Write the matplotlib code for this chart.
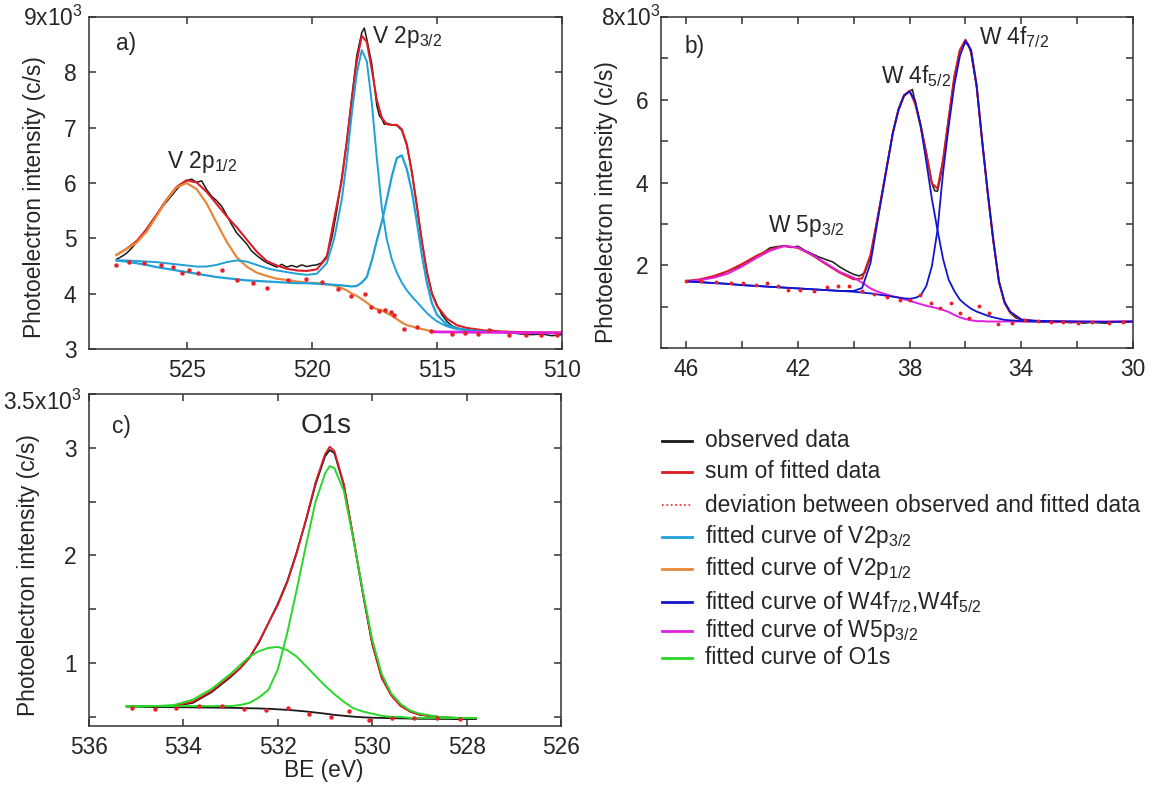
import matplotlib
matplotlib.use("Agg")
import matplotlib.pyplot as plt
from matplotlib.lines import Line2D

plt.rcParams["font.family"] = ["Liberation Sans", "DejaVu Sans"]
plt.rcParams["mathtext.fontset"] = "custom"
plt.rcParams["mathtext.rm"] = "Liberation Sans"
plt.rcParams["mathtext.it"] = "Liberation Sans:italic"
plt.rcParams["mathtext.bf"] = "Liberation Sans:bold"

# ---------------- a) V 2p region ----------------
be_a_obs = [527.8, 527.6, 527.4, 527.2, 527.0, 526.8, 526.6, 526.4, 526.2, 526.0,
            525.8, 525.6, 525.4, 525.2, 525.0, 524.8, 524.6, 524.4, 524.2, 524.0,
            523.8, 523.6, 523.4, 523.2, 523.0, 522.8, 522.6, 522.4, 522.2, 522.0,
            521.8, 521.6, 521.4, 521.2, 521.0, 520.8, 520.6, 520.4, 520.2, 520.0,
            519.8, 519.6, 519.4, 519.2, 519.0, 518.8, 518.6, 518.4, 518.2, 518.0,
            517.9, 517.8, 517.6, 517.4, 517.3, 517.2, 517.1, 517.0, 516.8, 516.6,
            516.4, 516.2, 516.0, 515.8, 515.6, 515.4, 515.2, 515.0, 514.8, 514.6,
            514.4, 514.2, 514.0, 513.6, 513.2, 512.8, 512.4, 512.0, 511.6, 511.2,
            510.8, 510.4, 510.0]
obs_a = [4.62, 4.67, 4.73, 4.82, 4.93, 5.05, 5.17, 5.30, 5.42, 5.55,
         5.66, 5.77, 5.88, 5.98, 6.04, 6.07, 6.01, 6.04, 5.88, 5.76,
         5.68, 5.58, 5.42, 5.25, 5.10, 5.00, 4.90, 4.77, 4.69, 4.62,
         4.56, 4.52, 4.48, 4.53, 4.48, 4.51, 4.48, 4.52, 4.49, 4.51,
         4.52, 4.56, 4.68, 5.00, 5.50, 6.10, 6.75, 7.55, 8.30, 8.72,
         8.80, 8.60, 8.15, 7.40, 7.22, 7.16, 7.06, 7.08, 7.05, 7.04,
         6.95, 6.68, 6.20, 5.60, 4.95, 4.40, 4.02, 3.80, 3.62, 3.50,
         3.42, 3.38, 3.36, 3.33, 3.32, 3.34, 3.30, 3.29, 3.27, 3.26,
         3.27, 3.24, 3.26]

be_a = [527.8, 527.4, 527.0, 526.6, 526.2, 525.8, 525.4, 525.0, 524.6, 524.2,
        523.8, 523.4, 523.0, 522.6, 522.2, 521.8, 521.4, 521.0, 520.6, 520.2,
        519.8, 519.4, 519.1, 518.8, 518.6, 518.4, 518.2, 518.0, 517.8, 517.6,
        517.4, 517.2, 517.0, 516.8, 516.6, 516.4, 516.2, 516.0, 515.8, 515.6,
        515.4, 515.2, 515.0, 514.6, 514.2, 513.8, 513.0]
be_a_sum = be_a + [512.0, 511.0, 510.0]
sum_a = [4.70, 4.81, 4.95, 5.16, 5.43, 5.70, 5.93, 6.05, 6.01, 5.84,
         5.62, 5.40, 5.20, 4.98, 4.76, 4.59, 4.51, 4.45, 4.42, 4.41,
         4.44, 4.65, 5.36, 6.05, 6.75, 7.50, 8.20, 8.66, 8.55, 8.05,
         7.50, 7.18, 7.06, 7.05, 7.05, 6.97, 6.70, 6.20, 5.58, 4.95,
         4.40, 4.00, 3.78, 3.55, 3.43, 3.38, 3.33, 3.31, 3.30, 3.30]
v2p32_main = [4.60, 4.60, 4.59, 4.58, 4.57, 4.55, 4.53, 4.51, 4.49, 4.49,
              4.52, 4.57, 4.60, 4.58, 4.52, 4.46, 4.42, 4.39, 4.36, 4.34,
              4.36, 4.55, 5.00, 5.70, 6.40, 7.25, 7.98, 8.40, 8.20, 7.45,
              6.45, 5.55, 4.98, 4.62, 4.38, 4.20, 4.06, 3.95, 3.85, 3.75,
              3.65, 3.57, 3.50, 3.41, 3.36, 3.34, 3.31]
v2p32_low = [4.60, 4.58, 4.55, 4.52, 4.48, 4.45, 4.42, 4.39, 4.36, 4.33,
             4.30, 4.28, 4.26, 4.24, 4.23, 4.22, 4.21, 4.20, 4.19, 4.19,
             4.18, 4.17, 4.16, 4.15, 4.14, 4.13, 4.14, 4.20, 4.30, 4.60,
             4.96, 5.30, 5.70, 6.12, 6.45, 6.50, 6.25, 5.85, 5.30, 4.70,
             4.20, 3.83, 3.62, 3.44, 3.37, 3.34, 3.31]
v2p12 = [4.70, 4.81, 4.92, 5.12, 5.40, 5.69, 5.92, 6.00, 5.89, 5.63,
         5.28, 4.94, 4.66, 4.49, 4.38, 4.32, 4.27, 4.25, 4.22, 4.20,
         4.19, 4.17, 4.15, 4.10, 4.06, 4.00, 3.96, 3.90, 3.84, 3.76,
         3.72, 3.70, 3.65, 3.60, 3.54, 3.48, 3.43, 3.41, 3.38, 3.36,
         3.34, 3.32, 3.31]
be_a_tail = [515.2, 510.0]
tail_a = [3.31, 3.29]
be_a_dev = [527.84, 527.30, 526.70, 526.01, 525.55, 525.19, 524.90, 524.53, 523.59, 523.00,
            522.36, 521.79, 520.93, 520.24, 519.59, 518.97, 518.44, 517.89, 517.62, 517.30,
            517.07, 516.85, 516.73, 516.33, 515.81, 515.22, 514.41, 513.89, 513.37, 512.93,
            512.11, 511.44, 510.85, 510.19]
dev_a = [4.51, 4.57, 4.55, 4.52, 4.48, 4.37, 4.43, 4.37, 4.42, 4.25,
         4.19, 4.11, 4.25, 4.27, 4.21, 4.08, 3.95, 4.00, 3.76, 3.68,
         3.70, 3.66, 3.62, 3.37, 3.40, 3.32, 3.28, 3.29, 3.28, 3.34,
         3.25, 3.26, 3.25, 3.26]

# ---------------- b) W 4f / W 5p region ----------------
be_b_obs = [46.0, 45.75, 45.5, 45.25, 45.0, 44.75, 44.5, 44.25, 44.0, 43.75,
            43.5, 43.25, 43.0, 42.75, 42.5, 42.25, 42.0, 41.75, 41.5, 41.25,
            41.0, 40.75, 40.5, 40.25, 40.0, 39.8, 39.6, 39.4, 39.2, 39.0,
            38.8, 38.6, 38.4, 38.2, 38.0, 37.9, 37.8, 37.6, 37.4, 37.2,
            37.1, 37.0, 36.9, 36.8, 36.6, 36.4, 36.2, 36.0, 35.9, 35.8,
            35.6, 35.4, 35.2, 35.0, 34.8, 34.6, 34.4, 34.2, 34.0, 33.75,
            33.5, 33.25, 33.0, 32.75, 32.5, 32.25, 32.0, 31.75, 31.5, 31.25,
            31.0, 30.75, 30.5, 30.25, 30.0]
obs_b = [1.60, 1.63, 1.65, 1.69, 1.73, 1.78, 1.86, 1.93, 1.98, 2.08,
         2.22, 2.30, 2.42, 2.45, 2.47, 2.43, 2.46, 2.36, 2.28, 2.20,
         2.14, 2.08, 1.96, 1.86, 1.78, 1.74, 1.82, 2.20, 2.95, 3.70,
         4.45, 5.20, 5.78, 6.12, 6.20, 6.25, 5.95, 5.40, 4.72, 3.98,
         3.80, 3.79, 4.10, 4.55, 5.55, 6.55, 7.20, 7.37, 7.35, 7.12,
         6.30, 5.00, 3.72, 2.55, 1.60, 1.08, 0.85, 0.73, 0.68, 0.65,
         0.66, 0.63, 0.64, 0.62, 0.63, 0.61, 0.62, 0.60, 0.62, 0.61,
         0.60, 0.62, 0.63, 0.62, 0.64]

be_b = [46.0, 45.5, 45.0, 44.5, 44.0, 43.5, 43.0, 42.5, 42.0, 41.5,
        41.0, 40.5, 40.0, 39.7, 39.4, 39.1, 38.8, 38.6, 38.4, 38.2,
        38.0, 37.8, 37.6, 37.4, 37.2, 37.0, 36.8, 36.6, 36.4, 36.2,
        36.0, 35.8, 35.6, 35.4, 35.2, 35.0, 34.8, 34.6, 34.4, 34.0,
        33.5, 33.0, 32.0, 31.0, 30.0]
sum_b = [1.62, 1.66, 1.74, 1.86, 2.03, 2.22, 2.38, 2.47, 2.42, 2.25,
         2.03, 1.82, 1.66, 1.68, 2.25, 3.30, 4.43, 5.20, 5.75, 6.10,
         6.22, 5.90, 5.35, 4.70, 3.98, 3.85, 4.55, 5.55, 6.55, 7.20,
         7.45, 7.20, 6.35, 5.00, 3.75, 2.60, 1.60, 1.10, 0.86, 0.68,
         0.65, 0.64, 0.63, 0.63, 0.64]
w4f52 = [1.61, 1.59, 1.57, 1.55, 1.52, 1.50, 1.48, 1.46, 1.44, 1.42,
         1.40, 1.38, 1.38, 1.45, 2.05, 3.25, 4.42, 5.19, 5.74, 6.09,
         6.20, 5.98, 5.35, 4.50, 3.60, 2.85, 2.15, 1.65, 1.38, 1.17,
         1.05, 0.95, 0.88, 0.83, 0.78, 0.74, 0.71, 0.68, 0.67, 0.65,
         0.64, 0.64]
w4f72 = [1.61, 1.59, 1.57, 1.55, 1.52, 1.50, 1.48, 1.46, 1.44, 1.42,
         1.40, 1.38, 1.36, 1.34, 1.32, 1.29, 1.26, 1.24, 1.22, 1.20,
         1.19, 1.21, 1.27, 1.50, 1.98, 2.85, 4.25, 5.35, 6.35, 7.05,
         7.42, 7.20, 6.35, 5.00, 3.75, 2.60, 1.62, 1.12, 0.88, 0.69,
         0.66, 0.65, 0.64, 0.63, 0.64]
w5p32 = [1.61, 1.64, 1.70, 1.80, 1.97, 2.17, 2.35, 2.46, 2.43, 2.26,
         2.05, 1.84, 1.70, 1.58, 1.44, 1.35, 1.29, 1.25, 1.22, 1.18,
         1.14, 1.10, 1.06, 1.02, 0.99, 0.96, 0.92, 0.87, 0.80, 0.74,
         0.70, 0.67, 0.65, 0.65, 0.64, 0.64, 0.64, 0.64, 0.64, 0.64,
         0.64, 0.64, 0.64, 0.64, 0.64]
be_b_dev = [46.0, 45.45, 44.93, 44.41, 43.96, 43.5, 43.11, 42.72, 42.35, 41.94,
            41.42, 40.96, 40.57, 40.18, 39.72, 39.27, 38.81, 38.36, 37.97, 37.64,
            37.25, 36.92, 36.53, 36.18, 35.88, 35.52, 35.14, 34.84, 34.35, 33.86,
            33.41, 32.95, 32.5, 31.98, 31.46, 30.87, 30.35]
dev_b = [1.61, 1.63, 1.59, 1.57, 1.56, 1.53, 1.56, 1.51, 1.41, 1.39,
         1.37, 1.48, 1.51, 1.49, 1.37, 1.31, 1.24, 1.15, 1.17, 1.27,
         1.08, 0.97, 1.08, 0.84, 0.73, 1.01, 0.85, 0.57, 0.61, 0.67,
         0.65, 0.64, 0.63, 0.61, 0.63, 0.60, 0.63]

# ---------------- c) O 1s region ----------------
be_c = [535.2, 535.0, 534.6, 534.2, 533.8, 533.4, 533.0, 532.8, 532.6, 532.4,
        532.2, 532.0, 531.8, 531.6, 531.4, 531.2, 531.0, 530.9, 530.8, 530.6,
        530.4, 530.2, 530.0, 529.8, 529.6, 529.4, 529.2, 529.0, 528.6, 528.2,
        527.8]
obs_c = [0.60, 0.60, 0.59, 0.60, 0.63, 0.73, 0.87, 0.95, 1.05, 1.19,
         1.37, 1.55, 1.76, 2.03, 2.33, 2.66, 2.92, 2.98, 2.95, 2.65,
         2.16, 1.65, 1.18, 0.87, 0.71, 0.61, 0.55, 0.52, 0.50, 0.48,
         0.49]
sum_c = [0.60, 0.60, 0.60, 0.60, 0.64, 0.74, 0.88, 0.95, 1.05, 1.20,
         1.37, 1.54, 1.75, 2.02, 2.34, 2.68, 2.94, 3.01, 2.97, 2.66,
         2.17, 1.66, 1.18, 0.86, 0.70, 0.60, 0.55, 0.52, 0.50, 0.49,
         0.49]
o1s_main = [0.60, 0.60, 0.60, 0.60, 0.60, 0.60, 0.60, 0.61, 0.63, 0.68,
            0.75, 0.94, 1.28, 1.68, 2.10, 2.50, 2.76, 2.83, 2.81, 2.60,
            2.15, 1.67, 1.22, 0.90, 0.72, 0.62, 0.56, 0.53, 0.50, 0.49,
            0.49]
o1s_high = [0.596, 0.596, 0.60, 0.61, 0.66, 0.76, 0.90, 0.98, 1.06, 1.11,
            1.14, 1.15, 1.12, 1.06, 0.97, 0.88, 0.79, 0.75, 0.71, 0.64,
            0.58, 0.55, 0.53, 0.51, 0.50, 0.50, 0.49, 0.49, 0.49, 0.49,
            0.49]
bg_c = [0.595, 0.595, 0.593, 0.590, 0.588, 0.586, 0.584, 0.582, 0.580, 0.578,
        0.575, 0.570, 0.565, 0.558, 0.550, 0.540, 0.530, 0.524, 0.518, 0.510,
        0.502, 0.496, 0.492, 0.490, 0.488, 0.486, 0.484, 0.482, 0.481, 0.480,
        0.480]
be_c_dev = [535.08, 534.61, 534.15, 533.66, 533.19, 532.71, 532.25, 531.79, 531.34, 530.88,
            530.49, 530.06, 529.59, 529.11, 528.62, 528.13]
dev_c = [0.58, 0.57, 0.58, 0.60, 0.60, 0.57, 0.56, 0.58, 0.53, 0.50,
         0.55, 0.47, 0.49, 0.49, 0.49, 0.48]

# ---------------- styling ----------------
C_OBS = "#1a1a1a"
C_SUM = "#dc1c24"
C_DEV = "#e8202a"
C_V32 = "#1fa0d8"
C_V12 = "#e8873a"
C_W4F = "#1414cc"
C_W5P = "#e020e0"
C_O1S = "#2ad62a"
TXT = "#262626"
FS = 16.4

W, H = 1153, 792
fig = plt.figure(figsize=(W / 100, H / 100), dpi=100)


def px_axes(left, top, right, bottom):
    return fig.add_axes([left / W, 1 - bottom / H, (right - left) / W, (bottom - top) / H])


def style(ax):
    for s in ax.spines.values():
        s.set_linewidth(1.1)
        s.set_color("#333333")
    ax.tick_params(which="both", direction="in", top=True, right=True,
                   length=5, width=1.1, color="#333333",
                   labelsize=FS, labelcolor=TXT)
    ax.tick_params(axis="x", pad=7)
    ax.tick_params(axis="y", pad=9)


ax_a = px_axes(89, 17, 562, 349)
ax_b = px_axes(661, 17, 1133, 348)
ax_c = px_axes(89, 394, 561, 726)

# panel a
ax = ax_a
ax.plot(be_a_obs, obs_a, color=C_OBS, lw=1.1)
ax.plot(be_a_sum, sum_a, color=C_SUM, lw=1.5)
ax.plot(be_a[:len(v2p12)], v2p12, color=C_V12, lw=1.6)
ax.plot(be_a, v2p32_low, color=C_V32, lw=1.6)
ax.plot(be_a, v2p32_main, color=C_V32, lw=1.4)
ax.plot(be_a_tail, tail_a, color=C_W5P, lw=2.0)
ax.plot(be_a_dev, dev_a, "o", color=C_DEV, ms=3.2, mew=0)
ax.set_xlim(528.9, 510)
ax.set_ylim(3, 9)
ax.set_xticks([525, 520, 515, 510])
ax.set_yticks([3, 4, 5, 6, 7, 8, 9])
ax.set_yticklabels(["3", "4", "5", "6", "7", "8", ""])
style(ax)
ax.text(-0.013, 0.973, r"9x10$^{3}$", transform=ax.transAxes, ha="right",
        va="baseline", fontsize=FS, color=TXT)

# panel b
ax = ax_b
ax.plot(be_b_obs, obs_b, color=C_OBS, lw=1.1)
ax.plot(be_b, sum_b, color=C_SUM, lw=1.5)
ax.plot(be_b, w5p32, color=C_W5P, lw=1.4)
ax.plot(be_b[:len(w4f52)], w4f52, color=C_W4F, lw=1.3)
ax.plot(be_b, w4f72, color=C_W4F, lw=1.3)
ax.plot(be_b_dev, dev_b, "o", color=C_DEV, ms=2.8, mew=0)
ax.set_xlim(46.9, 30)
ax.set_ylim(0, 8)
ax.set_xticks([46, 44, 42, 40, 38, 36, 34, 32, 30])
ax.set_xticklabels(["46", "", "42", "", "38", "", "34", "", "30"])
ax.set_yticks([0, 1, 2, 3, 4, 5, 6, 7, 8])
ax.set_yticklabels(["", "", "2", "", "4", "", "6", "", ""])
style(ax)
ax.text(0.0, 0.973, r"8x10$^{3}$", transform=ax.transAxes, ha="right",
        va="baseline", fontsize=FS, color=TXT)

# panel c
ax = ax_c
ax.plot(be_c, obs_c, color=C_OBS, lw=1.3)
ax.plot(be_c, bg_c, color=C_OBS, lw=1.3)
ax.plot(be_c, sum_c, color=C_SUM, lw=1.3)
ax.plot(be_c, o1s_high, color=C_O1S, lw=1.4)
ax.plot(be_c, o1s_main, color=C_O1S, lw=1.4)
ax.plot(be_c_dev, dev_c, "o", color=C_DEV, ms=3.2, mew=0)
ax.set_xlim(536, 526)
ax.set_ylim(0.415, 3.5)
ax.set_xticks([536, 534, 532, 530, 528, 526])
ax.set_yticks([0.5, 1, 1.5, 2, 2.5, 3, 3.5])
ax.set_yticklabels(["", "1", "", "2", "", "3", ""])
style(ax)
ax.text(-0.015, 0.952, r"3.5x10$^{3}$", transform=ax.transAxes, ha="right",
        va="baseline", fontsize=FS, color=TXT)


def ftext(x, y, s, **kw):
    kw.setdefault("fontsize", FS)
    kw.setdefault("color", TXT)
    fig.text(x / W, 1 - y / H, s, **kw)


# axis titles
ylab = "Photoelectron intensity (c/s)"
ftext(35, 197, ylab, rotation=90, ha="center", va="center")
ftext(606, 202, ylab, rotation=90, ha="center", va="center")
ftext(29, 575, ylab, rotation=90, ha="center", va="center")
ftext(324, 771, "BE (eV)", ha="center", va="center")

# panel tags and peak labels
ftext(116, 50, "a)", ha="left", va="baseline")
ftext(685, 53, "b)", ha="left", va="baseline")
ftext(112, 433, "c)", ha="left", va="baseline")
ftext(372, 43, r"V 2p$_{3/2}$", ha="left", va="baseline")
ftext(167, 168, r"V 2p$_{1/2}$", ha="left", va="baseline")
ftext(979, 44, r"W 4f$_{7/2}$", ha="left", va="baseline")
ftext(881, 83, r"W 4f$_{5/2}$", ha="left", va="baseline")
ftext(768, 232, r"W 5p$_{3/2}$", ha="left", va="baseline")
ftext(326, 433, "O1s", ha="center", va="baseline", fontsize=20)

# legend
legend_entries = [
    ("observed data", C_OBS, "-"),
    ("sum of fitted data", C_SUM, "-"),
    ("deviation between observed and fitted data", C_DEV, ":"),
    (r"fitted curve of V2p$_{3/2}$", C_V32, "-"),
    (r"fitted curve of V2p$_{1/2}$", C_V12, "-"),
    (r"fitted curve of W4f$_{7/2}$,W4f$_{5/2}$", C_W4F, "-"),
    (r"fitted curve of W5p$_{3/2}$", C_W5P, "-"),
    ("fitted curve of O1s", C_O1S, "-"),
]
row_y = [441, 472, 505, 537, 569, 602, 631, 658]
for (label, col, ls), y in zip(legend_entries, row_y):
    lw = 1.2 if ls == ":" else 2.0
    fig.add_artist(Line2D([662 / W, 692 / W], [1 - y / H, 1 - y / H],
                          color=col, lw=lw, ls=ls, transform=fig.transFigure))
    ftext(705, y, label, ha="left", va="center")

fig.savefig("out.png", dpi=100)
